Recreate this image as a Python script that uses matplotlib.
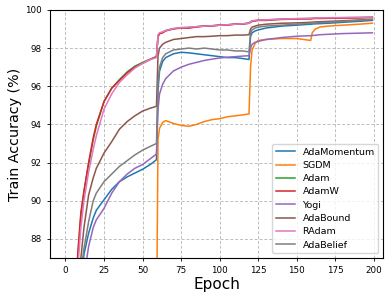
import matplotlib
matplotlib.use('Agg')
import matplotlib.pyplot as plt

epochs = [1, 5, 8, 10, 12, 15, 18, 20, 25, 30, 35, 40, 45, 50, 55, 59,
          60, 61, 63, 65, 70, 75, 80, 85, 90, 95, 100, 105, 110, 115, 119,
          120, 121, 123, 125, 130, 140, 150, 159, 160, 162, 165, 170, 180, 190, 199]

adamomentum = [55, 75, 82.5, 85.5, 87.2, 88.3, 89.1, 89.5, 90.05, 90.6, 91.0, 91.25, 91.45, 91.65, 91.9, 92.15,
               95.8, 96.8, 97.3, 97.5, 97.7, 97.78, 97.75, 97.7, 97.65, 97.6, 97.55, 97.5, 97.5, 97.45, 97.4,
               98.6, 98.8, 98.9, 98.95, 99.05, 99.15, 99.2, 99.25, 99.26, 99.27, 99.28, 99.3, 99.35, 99.4, 99.45]
sgdm = [40, 62, 70, 75, 76.5, 77.5, 78.5, 79, 80, 81, 81.5, 82, 82.3, 82.5, 82.8, 83,
        93.2, 93.8, 94.1, 94.2, 94.05, 93.95, 93.9, 94.0, 94.15, 94.25, 94.3, 94.4, 94.45, 94.5, 94.55,
        97.0, 97.9, 98.25, 98.4, 98.45, 98.5, 98.5, 98.4, 98.8, 99.0, 99.1, 99.15, 99.2, 99.25, 99.3]
adam = [69, 81.5, 87.0, 89.2, 90.5, 91.9, 93.2, 93.9, 95.2, 95.9, 96.35, 96.75, 97.05, 97.25, 97.42, 97.55,
        98.62, 98.77, 98.82, 98.92, 99.02, 99.07, 99.07, 99.12, 99.17, 99.17, 99.22, 99.22, 99.27, 99.27, 99.32,
        99.37, 99.42, 99.44, 99.47, 99.47, 99.52, 99.54, 99.55, 99.56, 99.57, 99.57, 99.58, 99.59, 99.6, 99.62]
adamw = [70, 82, 87.3, 89.4, 90.5, 92.0, 93.3, 94.0, 95.2, 95.9, 96.3, 96.7, 97.0, 97.2, 97.4, 97.55,
         98.6, 98.75, 98.8, 98.9, 99.0, 99.05, 99.05, 99.1, 99.15, 99.15, 99.2, 99.2, 99.25, 99.25, 99.3,
         99.35, 99.4, 99.42, 99.45, 99.45, 99.5, 99.52, 99.53, 99.54, 99.55, 99.55, 99.56, 99.57, 99.58, 99.6]
yogi = [50, 72, 80.5, 84.0, 86.0, 87.6, 88.6, 89.0, 89.6, 90.4, 91.0, 91.4, 91.7, 91.9, 92.2, 92.45,
        94.8, 95.6, 96.1, 96.4, 96.8, 97.0, 97.15, 97.25, 97.35, 97.42, 97.48, 97.52, 97.55, 97.58, 97.6,
        98.0, 98.2, 98.3, 98.35, 98.45, 98.55, 98.62, 98.65, 98.66, 98.67, 98.7, 98.72, 98.76, 98.78, 98.8]
adabound = [65, 78, 84.5, 87.0, 88.6, 90.3, 91.2, 91.7, 92.5, 93.1, 93.75, 94.15, 94.45, 94.7, 94.85, 94.95,
            97.6, 98.0, 98.2, 98.3, 98.45, 98.5, 98.55, 98.6, 98.6, 98.62, 98.65, 98.65, 98.68, 98.68, 98.7,
            99.0, 99.1, 99.15, 99.2, 99.25, 99.3, 99.32, 99.35, 99.36, 99.37, 99.38, 99.4, 99.43, 99.47, 99.5]
radam = [66, 80, 86.5, 88.6, 90.0, 91.5, 92.7, 93.4, 94.8, 95.6, 96.2, 96.6, 96.95, 97.2, 97.4, 97.5,
         98.7, 98.8, 98.85, 98.92, 99.02, 99.07, 99.1, 99.12, 99.15, 99.17, 99.2, 99.22, 99.25, 99.27, 99.3,
         99.38, 99.42, 99.45, 99.47, 99.48, 99.52, 99.54, 99.56, 99.57, 99.57, 99.58, 99.59, 99.6, 99.61, 99.62]
adabelief = [58, 77, 83.5, 86.3, 87.5, 88.9, 90.0, 90.4, 91.0, 91.4, 91.8, 92.1, 92.4, 92.65, 92.85, 93.0,
             96.2, 97.0, 97.5, 97.7, 97.9, 97.95, 98.0, 97.95, 98.0, 97.95, 97.9, 97.9, 97.85, 97.85, 97.8,
             98.8, 98.95, 99.05, 99.1, 99.15, 99.2, 99.25, 99.3, 99.3, 99.32, 99.33, 99.35, 99.4, 99.45, 99.5]

names = ['AdaMomentum', 'SGDM', 'Adam', 'AdamW', 'Yogi', 'AdaBound', 'RAdam', 'AdaBelief']
series = [adamomentum, sgdm, adam, adamw, yogi, adabound, radam, adabelief]

fig = plt.figure(figsize=(3.91, 3.0), dpi=100)
ax = fig.add_axes([0.128, 0.14, 0.852, 0.827])

for name, vals in zip(names, series):
    ax.plot(epochs, vals, label=name, linewidth=1.1)

ax.set_xlim(-10, 206)
ax.set_ylim(87, 100)
ax.set_xticks([0, 25, 50, 75, 100, 125, 150, 175, 200])
ax.set_yticks([88, 90, 92, 94, 96, 98, 100])
ax.tick_params(labelsize=6.3, length=2.5, width=0.6)
ax.grid(True, linestyle=(0, (3, 2)), color='#bdbdbd', linewidth=0.7)
ax.set_xlabel('Epoch', fontsize=11, labelpad=1)
ax.set_ylabel('Train Accuracy (%)', fontsize=10.3, labelpad=2)
ax.legend(loc='lower right', fontsize=6.8, handlelength=2.0, labelspacing=0.45,
          borderaxespad=0.5)

plt.savefig('out.png', dpi=100)
